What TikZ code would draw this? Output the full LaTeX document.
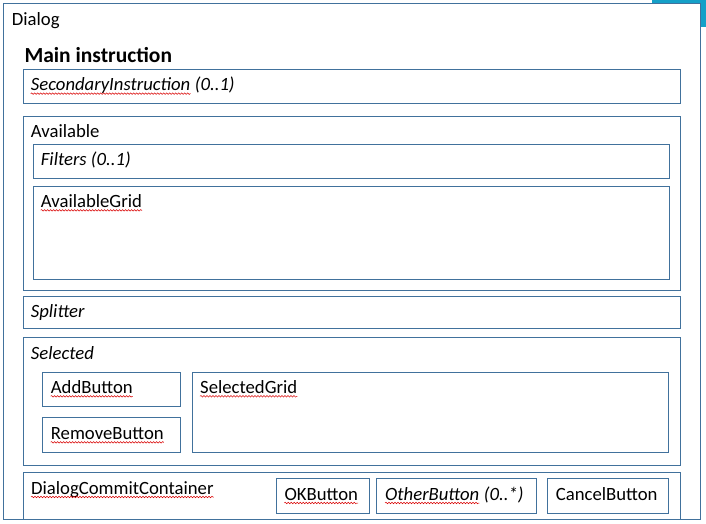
\documentclass[tikz,border=0pt]{standalone}
\usepackage{fontspec}
\setmainfont{Carlito}
\usetikzlibrary{decorations.pathmorphing}
\definecolor{boxblue}{RGB}{65,113,156}
\definecolor{tealbar}{RGB}{20,160,200}
\tikzset{
  box/.style={draw=boxblue, line width=1.1pt, fill=none, inner sep=0pt, anchor=north west},
  lbl/.style={anchor=base west, inner sep=0pt, font=\fontsize{18.7}{22}\selectfont, text=black},
  squig/.style={draw=red!85!black, line width=0.5pt, decorate, decoration={snake, amplitude=0.8pt, segment length=3pt}},
}
\newcommand{\wavy}[1]{\draw[squig] ([yshift=-3pt]#1.base west) -- ([yshift=-3pt]#1.base east);}
\begin{document}
\begin{tikzpicture}[x=1pt,y=-1pt]
\useasboundingbox (0,0) rectangle (706,524);
\fill[white] (0,0) rectangle (706,524);
% boxes
\node[box, minimum width=697pt, minimum height=516pt] (outer) at (3.3,3.3) {};
\node[box, minimum width=657pt, minimum height=34pt] (sec) at (23.3,69.3) {};
\node[box, minimum width=657pt, minimum height=174.3pt] (avail) at (23.3,116) {};
\node[box, minimum width=635.4pt, minimum height=34pt] (filters) at (33.3,144.3) {};
\node[box, minimum width=635.4pt, minimum height=92.7pt] (agrid) at (33.3,186.3) {};
\node[box, minimum width=657pt, minimum height=32pt] (split) at (23.3,296.3) {};
\node[box, minimum width=657pt, minimum height=128pt] (sel) at (23.3,337.3) {};
\node[box, minimum width=138pt, minimum height=34.6pt] (add) at (42.3,371.7) {};
\node[box, minimum width=138pt, minimum height=35pt] (remove) at (42.3,417.3) {};
\node[box, minimum width=476pt, minimum height=80.6pt] (sgrid) at (192.3,371.7) {};
\node[box, minimum width=657pt, minimum height=47pt] (commit) at (23.3,472.3) {};
\node[box, minimum width=93pt, minimum height=34.7pt] (ok) at (276.3,478.3) {};
\node[box, minimum width=160pt, minimum height=34.7pt] (other) at (376.3,478.3) {};
\node[box, minimum width=121pt, minimum height=34.7pt] (cancel) at (547.3,478.3) {};
% corner artifact
\fill[tealbar] (652,0) rectangle (706,3);
\fill[tealbar] (701,0) rectangle (706,27);
% labels
\node[lbl] (tDialog) at (11.7,26) {Dialog};
\node[lbl, font=\fontsize{21.5}{25}\selectfont\bfseries] (tMain) at (24.3,62.3) {Main instruction};
\node[lbl, font=\fontsize{18.7}{22}\selectfont\itshape] (tSec) at (30.7,90.7) {SecondaryInstruction};
\node[lbl, font=\fontsize{18.7}{22}\selectfont\itshape] (tSec2) at (tSec.base east) {\ (0..1)};
\node[lbl] (tAvail) at (30.7,137.7) {Available};
\node[lbl, font=\fontsize{18.7}{22}\selectfont\itshape] (tFilt) at (40.7,165.7) {Filters (0..1)};
\node[lbl] (tAgrid) at (40.7,207.3) {AvailableGrid};
\node[lbl, font=\fontsize{18.7}{22}\selectfont\itshape] (tSplit) at (30.7,317.3) {Splitter};
\node[lbl, font=\fontsize{18.7}{22}\selectfont\itshape] (tSel) at (30.7,359) {Selected};
\node[lbl] (tAdd) at (50.7,393.3) {AddButton};
\node[lbl] (tRemove) at (50.7,439.3) {RemoveButton};
\node[lbl] (tSgrid) at (200,393.3) {SelectedGrid};
\node[lbl] (tCommit) at (31,494) {DialogCommitContainer};
\node[lbl] (tOk) at (284.3,500) {OKButton};
\node[lbl, font=\fontsize{18.7}{22}\selectfont\itshape] (tOther) at (385,500) {OtherButton};
\node[lbl, font=\fontsize{18.7}{22}\selectfont\itshape] (tOther2) at (tOther.base east) {\ (0..*)};
\node[lbl] (tCancel) at (555.7,500) {CancelButton};
% spell-check squiggles
\wavy{tSec}
\wavy{tAgrid}
\wavy{tAdd}
\wavy{tRemove}
\wavy{tSgrid}
\wavy{tCommit}
\wavy{tOk}
\wavy{tOther}
\end{tikzpicture}
\end{document}
